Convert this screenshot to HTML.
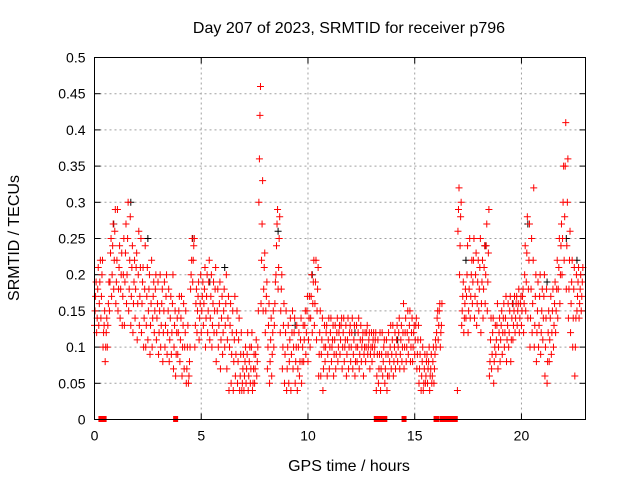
<!DOCTYPE html>
<html><head><meta charset="utf-8"><style>
html,body{margin:0;padding:0;background:#fff}
svg{display:block;font-family:"Liberation Sans",sans-serif}
</style></head><body>
<svg id="chart" width="640" height="480" viewBox="0 0 640 480" xmlns="http://www.w3.org/2000/svg">
<rect width="640" height="480" fill="#fff"/>
<text x="349" y="33" font-size="16" text-anchor="middle">Day 207 of 2023, SRMTID for receiver p796</text>
<text x="349" y="471" font-size="16" text-anchor="middle">GPS time / hours</text>
<text transform="translate(19,238) rotate(-90)" font-size="16" text-anchor="middle">SRMTID / TECUs</text>
<g id="grid"></g><g id="axes"></g><g id="marks"></g>
<rect x="94.5" y="57.5" width="491" height="362" fill="none" stroke="#000" stroke-width="1"/>
</svg>
<script>
const xTicks=[0,5,10,15,20];
const yTicks=[0,0.05,0.1,0.15,0.2,0.25,0.3,0.35,0.4,0.45,0.5];
const yTickLabels=["0","0.05","0.1","0.15","0.2","0.25","0.3","0.35","0.4","0.45","0.5"];
const t0=0, dt=0.1;
const redVals=[
[.13,.15,.17,.19],[.12,.14,.18,.21],[.13,.16,.19,.22],[.14,.17,.20,.22],[.10,.12,.13,.15],[.08,.10,.12,.14],[.10,.13,.16,.19],[.15,.19,.23,.25],[.17,.20,.24,.27],[.18,.22,.26,.29],
[.16,.19,.22,.29],[.15,.18,.21,.24],[.14,.18,.20,.23],[.13,.17,.20,.25],[.13,.19,.23,.27],[.16,.20,.25,.30],[.15,.18,.22,.28],[.13,.17,.21,.24],[.12,.16,.19,.22],[.14,.18,.21,.23],
[.11,.16,.20,.26],[.13,.17,.21,.25],[.12,.16,.19,.21],[.10,.14,.18,.24],[.10,.13,.17,.21],[.11,.15,.18,.20],[.09,.13,.16,.22],[.10,.14,.17,.19],[.12,.15,.18,.20],[.11,.14,.16,.19],
[.09,.12,.15,.20],[.10,.13,.16,.18],[.08,.12,.15,.19],[.10,.13,.17,.20],[.09,.12,.15,.18],[.08,.11,.14,.17],[.09,.12,.16,.20],[.07,.10,.13,.15],[.06,.09,.12,.14],[.09,.12,.15,.17],
[.08,.11,.14,.17],[.06,.10,.13,.16],[.07,.10,.12,.15],[.05,.07,.10,.13],[.05,.06,.08,.10],[.18,.20,.22,.25],[.19,.22,.24,.25],[.10,.13,.16,.18],[.12,.15,.17,.19],[.11,.14,.16,.20],
[.12,.15,.17,.19],[.13,.16,.18,.21],[.10,.14,.17,.20],[.12,.15,.19,.22],[.11,.14,.17,.20],[.10,.13,.16,.19],[.12,.15,.18,.21],[.08,.12,.15,.18],[.10,.13,.16,.19],[.07,.11,.14,.17],
[.09,.12,.15,.18],[.10,.13,.16,.20],[.07,.11,.14,.17],[.04,.10,.13,.16],[.05,.09,.12,.15],[.04,.08,.11,.17],[.06,.09,.12,.15],[.05,.08,.11,.14],[.04,.06,.09,.12],[.04,.05,.07,.09],
[.04,.06,.08,.10],[.05,.07,.09,.12],[.04,.06,.08,.10],[.05,.07,.10,.12],[.04,.05,.07,.09],[.05,.07,.09,.11],[.06,.08,.10,.15],[.30,.36,.42,.46],[.16,.22,.27,.33],[.15,.18,.21,.23],
[.12,.15,.17,.19],[.07,.10,.13,.16],[.05,.08,.11,.14],[.06,.09,.12,.15],[.10,.13,.16,.19],[.20,.24,.27,.29],[.18,.21,.25,.28],[.12,.15,.18,.20],[.07,.10,.13,.16],[.05,.09,.12,.15],
[.04,.07,.10,.13],[.05,.08,.11,.14],[.04,.09,.12,.15],[.07,.10,.12,.14],[.05,.08,.10,.13],[.04,.07,.10,.12],[.06,.08,.11,.14],[.05,.08,.10,.13],[.08,.11,.13,.15],[.09,.12,.15,.17],
[.08,.11,.14,.17],[.10,.14,.17,.20],[.12,.16,.19,.22],[.13,.16,.19,.22],[.11,.15,.18,.21],[.06,.09,.12,.15],[.06,.09,.11,.14],[.04,.07,.10,.13],[.08,.10,.12,.13],[.06,.09,.11,.14],
[.07,.10,.12,.14],[.08,.10,.11,.13],[.06,.09,.11,.13],[.07,.09,.12,.14],[.08,.10,.12,.13],[.09,.11,.13,.14],[.07,.10,.12,.14],[.08,.10,.11,.13],[.06,.09,.11,.14],[.07,.10,.12,.13],
[.08,.10,.12,.14],[.07,.09,.11,.13],[.06,.08,.10,.13],[.08,.10,.12,.14],[.07,.09,.11,.13],[.08,.10,.11,.12],[.06,.09,.10,.12],[.08,.10,.12,.13],[.09,.10,.11,.12],[.07,.09,.10,.12],
[.08,.10,.11,.12],[.09,.10,.11,.12],[.04,.06,.09,.11],[.05,.07,.09,.12],[.04,.07,.09,.12],[.06,.08,.10,.11],[.05,.07,.09,.11],[.04,.06,.09,.12],[.06,.08,.10,.13],[.07,.09,.11,.13],
[.06,.08,.10,.12],[.07,.09,.11,.13],[.08,.10,.12,.14],[.07,.09,.11,.13],[.08,.10,.12,.16],[.07,.10,.12,.14],[.08,.10,.12,.15],[.09,.11,.13,.15],[.08,.10,.12,.14],[.08,.10,.12,.13],
[.09,.11,.13,.14],[.07,.09,.11,.13],[.05,.07,.09,.11],[.04,.06,.08,.10],[.04,.05,.07,.09],[.05,.06,.08,.09],[.05,.07,.08,.10],[.04,.06,.07,.09],[.05,.06,.08,.10],[.05,.07,.09,.11],
[.10,.12,.14,.15],[.11,.13,.15,.16],[.10,.12,.13,.16],null,null,null,null,null,null,null,
[.04,.26,.29,.32],[.20,.24,.28,.30],[.13,.15,.17,.19],[.12,.14,.16,.18],[.14,.17,.20,.24],[.12,.15,.18,.25],[.14,.17,.20,.22],[.16,.19,.22,.25],[.14,.17,.20,.23],[.13,.16,.19,.22],
[.15,.18,.21,.25],[.12,.16,.19,.22],[.14,.18,.21,.24],[.16,.20,.24,.27],[.15,.19,.23,.29],[.06,.08,.11,.14],[.07,.09,.12,.14],[.05,.08,.10,.13],[.09,.11,.13,.16],[.07,.10,.12,.14],
[.08,.11,.13,.15],[.09,.12,.14,.16],[.10,.12,.14,.17],[.08,.11,.13,.16],[.10,.12,.15,.17],[.08,.11,.14,.16],[.11,.13,.15,.17],[.12,.14,.16,.17],[.13,.15,.16,.18],[.12,.14,.16,.17],
[.13,.15,.17,.18],[.12,.16,.20,.24],[.15,.19,.23,.28],[.14,.18,.22,.27],[.10,.14,.18,.25],[.12,.16,.22,.32],[.10,.13,.17,.20],[.08,.12,.15,.19],[.10,.13,.17,.20],[.09,.12,.15,.18],
[.11,.14,.17,.20],[.06,.10,.14,.18],[.05,.08,.12,.15],[.08,.11,.14,.17],[.09,.12,.15,.18],[.10,.13,.16,.19],[.12,.15,.18,.22],[.14,.18,.21,.25],[.16,.20,.24,.27],[.20,.25,.30,.35],
[.22,.28,.35,.41],[.18,.24,.30,.36],[.14,.18,.22,.26],[.12,.16,.19,.22],[.10,.14,.18,.21],[.06,.10,.14,.20],[.15,.17,.19,.21],[.14,.16,.18,.20],[.15,.17,.19,.21]
];
const blackTimes=[1.7,2.5,4.6,6.1,8.6,9.4,12.2,14.2,17.4,18.3,19.6,20.3,21.2,22.1,22.6,0.9,5.4,10.2];
const blackVals=[0.30,0.25,0.25,0.21,0.26,0.13,0.12,0.11,0.22,0.24,0.16,0.27,0.19,0.25,0.22,0.27,0.19,0.20];
const zeroTimes=[0.3,0.35,0.4,0.45,3.8,13.2,13.3,13.5,13.6,14.5,16.0,16.05,16.3,16.45,16.6,16.75,16.9];

const X0=94.5,X1=585.5,Y0=419.5,Y1=57.5,XMAX=23,YMAX=0.5;
function sx(v){return X0+(v/XMAX)*(X1-X0);}
function sy(v){return Y0-(v/YMAX)*(Y0-Y1);}
const NS="http://www.w3.org/2000/svg";
const grid=document.getElementById('grid'),axes=document.getElementById('axes'),marks=document.getElementById('marks');
function mk(tag,attrs,parent){const e=document.createElementNS(NS,tag);for(const k in attrs)e.setAttribute(k,attrs[k]);parent.appendChild(e);return e;}
yTicks.forEach((v,i)=>{
  const y=sy(v);
  if(v>0&&v<YMAX){const g=mk('line',{x1:X0,x2:X1,y1:y,y2:y,stroke:'#a0a0a0','stroke-dasharray':'2,3'},grid);
  
  }
  mk('line',{x1:X0,x2:X0+6,y1:y,y2:y,stroke:'#000'},axes);
  mk('line',{x1:X1,x2:X1-6,y1:y,y2:y,stroke:'#000'},axes);
  const t=mk('text',{x:X0-9,y:y+5,'font-size':14,'text-anchor':'end'},axes);
  t.textContent=yTickLabels[i];
  
  
});
xTicks.forEach(v=>{
  const x=sx(v);
  if(v>0){const g=mk('line',{x1:x,x2:x,y1:Y0,y2:Y1,stroke:'#a0a0a0','stroke-dasharray':'2,3'},grid);
  
  }
  mk('line',{x1:x,x2:x,y1:Y0,y2:Y0-6,stroke:'#000'},axes);
  mk('line',{x1:x,x2:x,y1:Y1,y2:Y1+6,stroke:'#000'},axes);
  const t=mk('text',{x:x,y:Y0+21,'font-size':14,'text-anchor':'middle'},axes);
  t.textContent=String(v);
  
  
});
function plus(x,y,color,name){
  const p=mk('path',{d:`M${x-3.5},${y}h7M${x},${y-3.5}v7`,stroke:color,'stroke-width':1,fill:'none'},marks);
  
  
}
blackTimes.forEach((t,i)=>plus(sx(t),sy(blackVals[i]),'#000','black-point'));
redVals.forEach((vals,i)=>{
  if(!vals)return;
  const t=t0+i*dt;
  vals.forEach((v,j)=>plus(sx(t+j*0.025),sy(v),'#ff0000','red-point'));
});
zeroTimes.forEach(t=>{
  const r=mk('rect',{x:sx(t)-2.5,y:sy(0)-3.5,width:5,height:6,fill:'#ff0000'},marks);
  
  
});
</script>
</body></html>
